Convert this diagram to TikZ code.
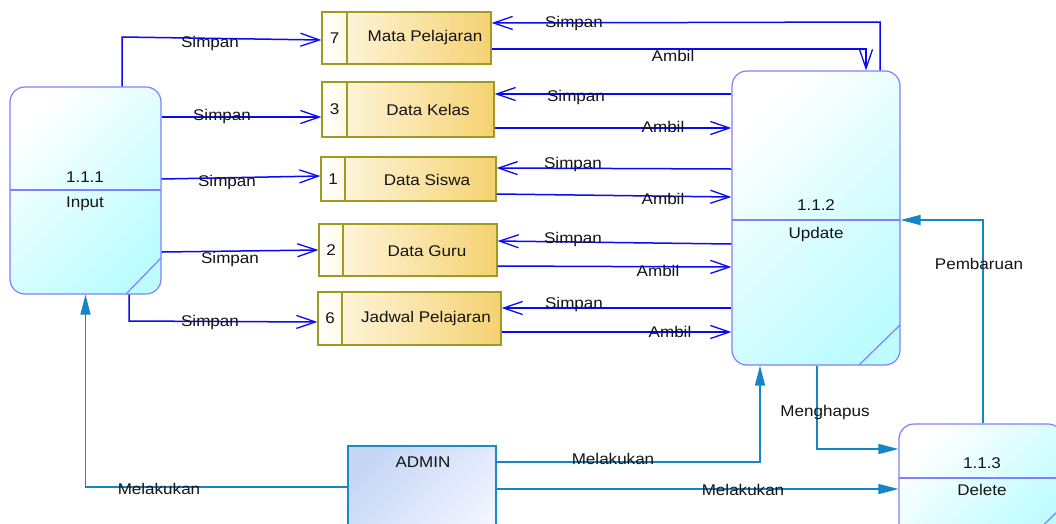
\documentclass[tikz,border=0pt]{standalone}
\usepackage{fontspec}
\setmainfont{Liberation Sans}[FakeStretch=1.1]
\usetikzlibrary{arrows.meta}
\definecolor{flow}{HTML}{0A0AF5}
\definecolor{tealc}{HTML}{1585C5}
\definecolor{procB}{HTML}{8080FF}
\definecolor{procF}{HTML}{BCFCFF}
\definecolor{storeB}{HTML}{A09A20}
\definecolor{storeF}{HTML}{F5D271}
\definecolor{storeL}{HTML}{FFF9E8}
\definecolor{adminB}{HTML}{1A8AC8}
\definecolor{adminF1}{HTML}{C6D6F5}
\definecolor{adminF2}{HTML}{F2F4FF}
\definecolor{txt}{HTML}{141414}
\begin{document}
\begin{tikzpicture}[x=1pt,y=-1pt,
  font=\fontsize{15.5}{18}\selectfont, text=txt,
  every node/.style={inner sep=0pt},
  proc/.style={draw=procB, line width=1.2pt, rounded corners=15pt,
    top color=white, bottom color=procF, shading angle=45},
  procline/.style={draw=procB, line width=1.2pt},
  store/.style={draw=storeB, line width=1.2pt, left color=storeL, right color=storeF},
  storecell/.style={draw=storeB, line width=1.2pt, left color=white, right color=storeL, anchor=west},
  admin/.style={draw=adminB, line width=1.3pt, top color=adminF1, bottom color=adminF2, shading angle=45},
  bflow/.style={draw=flow, line width=1.5pt, -{Straight Barb[length=19pt,width=13pt,line width=1.3pt]}},
  tflow/.style={draw=tealc, line width=1.4pt, -{Triangle[length=20pt,width=10pt]}},
  lbl/.style={inner sep=0pt}
]
\fill[white] (0,0) rectangle (1056,523);
\useasboundingbox (0,0) rectangle (1056,523);

% processes
\node[proc, minimum width=151pt, minimum height=207pt] (input) at (85.5,190.5) {};
\draw[procline] (10,190) -- (161,190);
\draw[procline] (126,294) -- (161,258);
\node (inputid) at (85,177) {1.1.1};
\node (inputname) at (85,204) {Input};

\node[proc, minimum width=168pt, minimum height=294pt] (update) at (816,218) {};
\draw[procline] (732,220) -- (900,220);
\draw[procline] (859,365) -- (900,325);
\node (updateid) at (816,205) {1.1.2};
\node (updatename) at (816,234) {Update};

\node[proc, minimum width=164pt, minimum height=122pt] (delete) at (981,485) {};
\draw[procline] (899,478) -- (1063,478);
\draw[procline] (1022,546) -- (1063,506);
\node (deleteid) at (982,463) {1.1.3};
\node (deletename) at (982,490) {Delete};

% admin
\node[admin, minimum width=148pt, minimum height=100pt] (admin) at (422,496) {};
\node (admintext) at (423,462) {ADMIN};

% stores
\node[store, minimum width=169pt, minimum height=52pt] (mp) at (406.5,38) {};
\node[storecell, minimum width=25pt, minimum height=52pt] (mpn) at (mp.west) {7};
\node (mpt) at (425,37) {Mata Pelajaran};

\node[store, minimum width=172pt, minimum height=55pt] (dk) at (408,109.5) {};
\node[storecell, minimum width=25pt, minimum height=55pt] (dkn) at (dk.west) {3};
\node (dkt) at (428,110) {Data Kelas};

\node[store, minimum width=175pt, minimum height=44pt] (ds) at (408.5,179) {};
\node[storecell, minimum width=24pt, minimum height=44pt] (dsn) at (ds.west) {1};
\node (dst) at (427,180) {Data Siswa};

\node[store, minimum width=178pt, minimum height=52pt] (dg) at (408,250) {};
\node[storecell, minimum width=24pt, minimum height=52pt] (dgn) at (dg.west) {2};
\node (dgt) at (427,251) {Data Guru};

\node[store, minimum width=183pt, minimum height=53pt] (jp) at (409.5,318.5) {};
\node[storecell, minimum width=24pt, minimum height=53pt] (jpn) at (jp.west) {6};
\node (jpt) at (426,318) {Jadwal Pelajaran};

% blue flows from Input
\draw[bflow] (input.north -| 122,0) -- (122,37) -- (mp.west |- 0,40);
\draw[bflow] (input.east |- 0,117) -- (dk.west |- 0,117);
\draw[bflow] (input.east |- 0,179) -- (ds.west |- 0,176);
\draw[bflow] (input.east |- 0,252) -- (dg.west |- 0,250);
\draw[bflow] (input.south -| 129,0) -- (129,321) -- (jp.west |- 0,322);

% blue flows with Update
\draw[bflow] (update.north -| 880,0) -- (880,22) -- (mp.east |- 0,23);
\draw[bflow] (mp.east |- 0,49) -- (866,49) -- (update.north -| 866,0);
\draw[bflow] (update.west |- 0,94) -- (dk.east |- 0,94);
\draw[bflow] (dk.east |- 0,128) -- (update.west |- 0,128);
\draw[bflow] (update.west |- 0,169) -- (ds.east |- 0,168);
\draw[bflow] (ds.east |- 0,194) -- (update.west |- 0,197);
\draw[bflow] (update.west |- 0,244) -- (dg.east |- 0,241);
\draw[bflow] (dg.east |- 0,266) -- (update.west |- 0,267);
\draw[bflow] (update.west |- 0,308) -- (jp.east |- 0,308);
\draw[bflow] (jp.east |- 0,332) -- (update.west |- 0,332);

% teal flows
\draw[tflow] (admin.west |- 0,487) -| (input.south);
\draw[tflow] (admin.east |- 0,462) -| (update.south -| 760,0);
\draw[tflow] (admin.east |- 0,489) -- (delete.west |- 0,489);
\draw[tflow] (update.south -| 817,0) |- (delete.west |- 0,449);
\draw[tflow] (delete.north -| 983,0) |- (update.east |- 0,220);

% labels
\node[lbl] (l1) at (210,43) {Simpan};
\node[lbl] (l2) at (222,116) {Simpan};
\node[lbl] (l3) at (227,182) {Simpan};
\node[lbl] (l4) at (230,259) {Simpan};
\node[lbl] (l5) at (210,322) {Simpan};
\node[lbl] (l6) at (574,23) {Simpan};
\node[lbl] (l7) at (673,56) {Ambil};
\node[lbl] (l8) at (576,97) {Simpan};
\node[lbl] (l9) at (663,127) {Ambil};
\node[lbl] (l10) at (573,164) {Simpan};
\node[lbl] (l11) at (663,199) {Ambil};
\node[lbl] (l12) at (573,239) {Simpan};
\node[lbl] (l13) at (658,271) {Ambil};
\node[lbl] (l14) at (574,304) {Simpan};
\node[lbl] (l15) at (670,332) {Ambil};
\node[lbl] (l16) at (825,412) {Menghapus};
\node[lbl] (l17) at (979,264) {Pembaruan};
\node[lbl] (l18) at (613,459) {Melakukan};
\node[lbl] (l19) at (743,490) {Melakukan};
\node[lbl] (l20) at (159,489) {Melakukan};
\end{tikzpicture}
\end{document}
